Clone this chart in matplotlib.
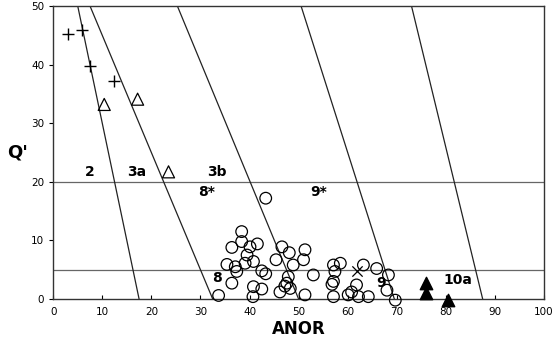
import matplotlib.pyplot as plt

# field boundaries: ANOR at Q'=50 (top) and Q'=0 (bottom)
bound_top = [5.0, 7.5, 25.3, 50.5, 73.0]
bound_bot = [17.5, 32.5, 50.0, 69.5, 87.5]
hlines_q = [20, 5]

# samples
circ_anor = [43.3, 38.4, 38.4, 36.4, 40.1, 41.6, 35.4, 37.1, 39.1, 40.8, 37.4, 42.5,
             43.3, 36.4, 40.8, 33.7, 40.7, 46.6, 45.4, 48.1, 51.3, 48.9, 51.0, 53.0,
             47.9, 47.6, 46.2, 48.3, 51.3, 57.1, 58.5, 57.4, 57.1, 57.1, 63.2, 61.8,
             60.1, 62.2, 64.2, 65.9, 68.3, 68.0, 69.7, 60.8, 42.5, 47.2, 56.8, 39.5]
circ_q = [17.2, 11.5, 9.8, 8.8, 8.9, 9.4, 5.9, 5.5, 6.1, 6.4, 4.7, 4.8,
          4.3, 2.7, 2.1, 0.6, 0.4, 8.9, 6.7, 7.9, 8.4, 5.8, 6.7, 4.1,
          3.8, 2.7, 1.2, 1.8, 0.7, 5.8, 6.1, 4.7, 3.0, 0.4, 5.8, 2.4,
          0.7, 0.4, 0.4, 5.2, 4.1, 1.5, -0.2, 1.2, 1.7, 2.2, 2.5, 7.5]
plus_anor = [3.0, 5.8, 7.4, 12.3]
plus_q = [45.2, 45.9, 39.8, 37.2]
tri_anor = [10.4, 17.2, 23.5]
tri_q = [33.2, 34.1, 21.7]
ftri_anor = [75.9, 75.9, 80.4]
ftri_q = [2.7, 1.0, -0.2]
x_anor = [61.8]
x_q = [4.7]

# field labels
lab_text = ["2", "3a", "3b", "8*", "9*", "8", "9", "10a"]
lab_anor = [7.5, 17.0, 33.3, 31.3, 54.0, 33.3, 66.7, 82.5]
lab_q = [21.6, 21.6, 21.6, 18.3, 18.3, 3.5, 2.8, 3.2]

fig = plt.figure(figsize=(5.54, 3.53), dpi=100)
ax = fig.add_axes([0.096, 0.153, 0.886, 0.830])

for t, b in zip(bound_top, bound_bot):
    ax.plot([t, b], [50, 0], color="#222222", lw=0.9, zorder=2)
for q in hlines_q:
    ax.axhline(q, color="#666666", lw=0.9, zorder=1)

ax.scatter(circ_anor, circ_q, s=70, facecolors="none", edgecolors="black",
           linewidths=0.9, zorder=3, clip_on=False)
ax.scatter(plus_anor, plus_q, s=80, marker="+", color="black", linewidths=1.0, zorder=3)
ax.scatter(tri_anor, tri_q, s=75, marker="^", facecolors="none", edgecolors="black",
           linewidths=0.9, zorder=3)
ax.scatter(ftri_anor, ftri_q, s=80, marker="^", color="black", zorder=3, clip_on=False)
ax.scatter(x_anor, x_q, s=55, marker="x", color="black", linewidths=0.9, zorder=3)

for s, xa, yq in zip(lab_text, lab_anor, lab_q):
    ax.text(xa, yq, s, fontsize=10, fontweight="bold", ha="center", va="center", zorder=4)

ax.set_xlim(0, 100)
ax.set_ylim(0, 50)
ax.set_xticks(range(0, 101, 10))
ax.set_yticks(range(0, 51, 10))
ax.tick_params(axis="x", direction="in", length=3, labelsize=7.5, pad=6)
ax.tick_params(axis="y", direction="out", length=3, labelsize=7.5)
for sp in ax.spines.values():
    sp.set_color("#333333")
    sp.set_linewidth(1.0)

ax.set_xlabel("ANOR", fontsize=12, fontweight="bold", labelpad=2)
ax.set_ylabel("Q'", fontsize=13, fontweight="bold", rotation=0, labelpad=10, va="center")

fig.savefig("out.png", dpi=100)
